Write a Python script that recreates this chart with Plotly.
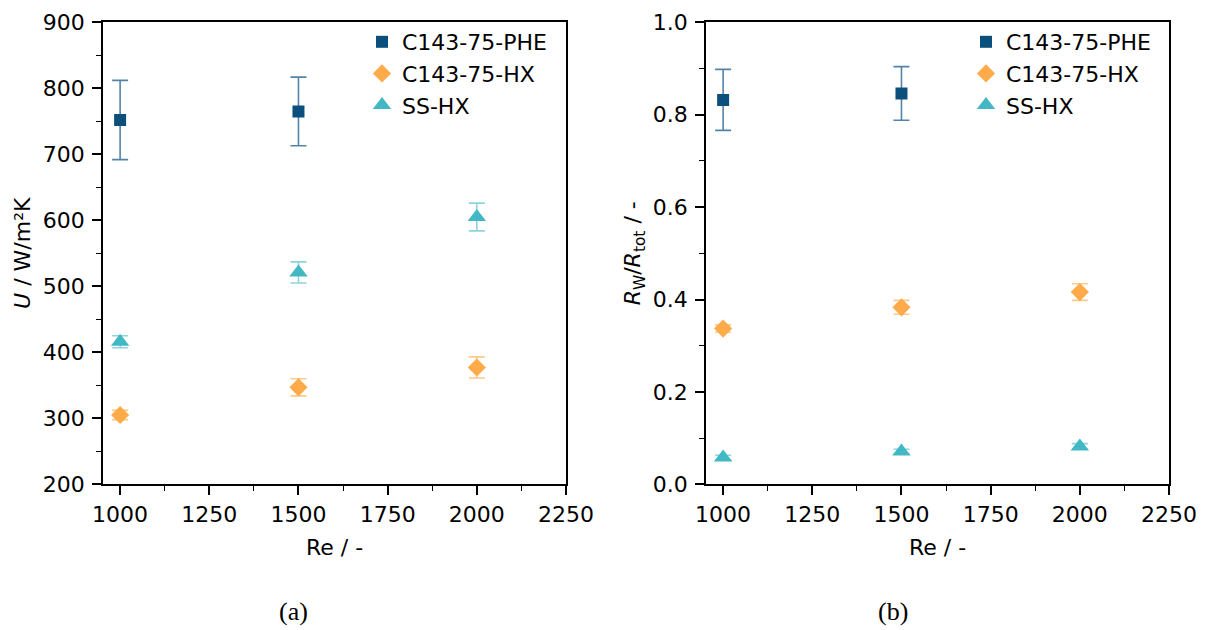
import plotly.graph_objects as go

# Reynolds numbers tested
re_vals = [1000, 1500, 2000]

# Overall heat transfer coefficient U (W/m²K) and uncertainty
u_phe = [752, 765, None]
u_phe_err = [60, 52, None]
u_hx = [305, 347, 377]
u_hx_err = [7, 13, 16]
u_ss = [416, 521, 605]
u_ss_err = [9, 16, 21]

# Wall resistance fraction R_W / R_tot and uncertainty
r_phe = [0.832, 0.846, None]
r_phe_err = [0.066, 0.058, None]
r_hx = [0.337, 0.383, 0.416]
r_hx_err = [0.008, 0.015, 0.018]
r_ss = [0.058, 0.071, 0.082]
r_ss_err = [0.005, 0.005, 0.006]

names = ["C143-75-PHE", "C143-75-HX", "SS-HX"]
symbols = ["square", "diamond", "triangle-up"]
sizes = [12, 14, 16]
colors = ["#0b4f7c", "#ffab4a", "#42b8c4"]
bar_colors = ["#5583a6", "#ffc98a", "#8fd4da"]

W, H = 1208, 630
FONT = "DejaVu Sans, Liberation Sans, Arial, sans-serif"
SERIF = "Liberation Serif, Times New Roman, serif"

fig = go.Figure()

panels = [
    ("x", "y", "legend", [(u_phe, u_phe_err), (u_hx, u_hx_err), (u_ss, u_ss_err)]),
    ("x2", "y2", "legend2", [(r_phe, r_phe_err), (r_hx, r_hx_err), (r_ss, r_ss_err)]),
]

for xa, ya, lg, series in panels:
    for i, (vals, errs) in enumerate(series):
        fig.add_trace(go.Scatter(
            x=re_vals, y=vals, mode="markers", name=names[i],
            xaxis=xa, yaxis=ya, legend=lg,
            marker=dict(symbol=symbols[i], size=sizes[i], color=colors[i]),
            error_y=dict(type="data", array=errs, visible=True,
                         color=bar_colors[i], thickness=1.6, width=8),
        ))

tick_font = dict(family=FONT, size=22, color="black")
title_font = dict(family=FONT, size=22, color="black")

common_axis = dict(
    showline=True, linecolor="black", linewidth=1.8, mirror=True,
    ticks="outside", ticklen=9, tickwidth=1.6, tickcolor="black",
    showgrid=False, zeroline=False, tickfont=tick_font, automargin=False,
)

x_ticks = [1000, 1250, 1500, 1750, 2000, 2250]
x_minor = dict(ticks="outside", ticklen=5, tickwidth=1.4, tickcolor="black", tick0=1000, dtick=125)

xdom1 = [103 / W, 566 / W]
xdom2 = [706 / W, 1169 / W]
ydom = [1 - 484.3 / H, 1 - 22.3 / H]

fig.update_layout(
    template="none",
    width=W, height=H, margin=dict(l=0, r=0, t=0, b=0, autoexpand=False),
    paper_bgcolor="white", plot_bgcolor="white",
    xaxis=dict(domain=xdom1, anchor="y", range=[952, 2250], tickvals=x_ticks, minor=x_minor,
               title=dict(text="Re / -", font=title_font, standoff=14), **common_axis),
    yaxis=dict(domain=ydom, anchor="x", range=[200, 900], dtick=100, ticklabelstandoff=3,
               minor=dict(ticks="outside", ticklen=5, tickwidth=1.4, tickcolor="black", tick0=200, dtick=50),
               title=dict(text="<i>U</i> / W/m²K", font=title_font, standoff=6), **common_axis),
    xaxis2=dict(domain=xdom2, anchor="y2", range=[952, 2250], tickvals=x_ticks, minor=x_minor,
                title=dict(text="Re / -", font=title_font, standoff=14), **common_axis),
    yaxis2=dict(domain=ydom, anchor="x2", range=[0, 1.0], dtick=0.2, tickformat=".1f", ticklabelstandoff=3,
                minor=dict(ticks="outside", ticklen=5, tickwidth=1.4, tickcolor="black", tick0=0, dtick=0.1),
                title=dict(text="<i>R</i><sub>W</sub>/<i>R</i><sub>tot</sub> / -", font=title_font, standoff=6),
                **common_axis),
    legend=dict(x=362 / W, y=1 - 21 / H, xanchor="left", yanchor="top",
                font=dict(family=FONT, size=22, color="black"), bgcolor="rgba(0,0,0,0)",
                itemwidth=30),
    legend2=dict(x=966 / W, y=1 - 21 / H, xanchor="left", yanchor="top",
                 font=dict(family=FONT, size=22, color="black"), bgcolor="rgba(0,0,0,0)",
                 itemwidth=30),
    annotations=[
        dict(text="(a)", x=293 / W, y=1 - 611 / H, xref="paper", yref="paper", showarrow=False,
             xanchor="center", yanchor="middle",
             font=dict(family=SERIF, size=26, color="black")),
        dict(text="(b)", x=893 / W, y=1 - 611 / H, xref="paper", yref="paper", showarrow=False,
             xanchor="center", yanchor="middle",
             font=dict(family=SERIF, size=26, color="black")),
    ],
)

fig.write_html("out.html")
